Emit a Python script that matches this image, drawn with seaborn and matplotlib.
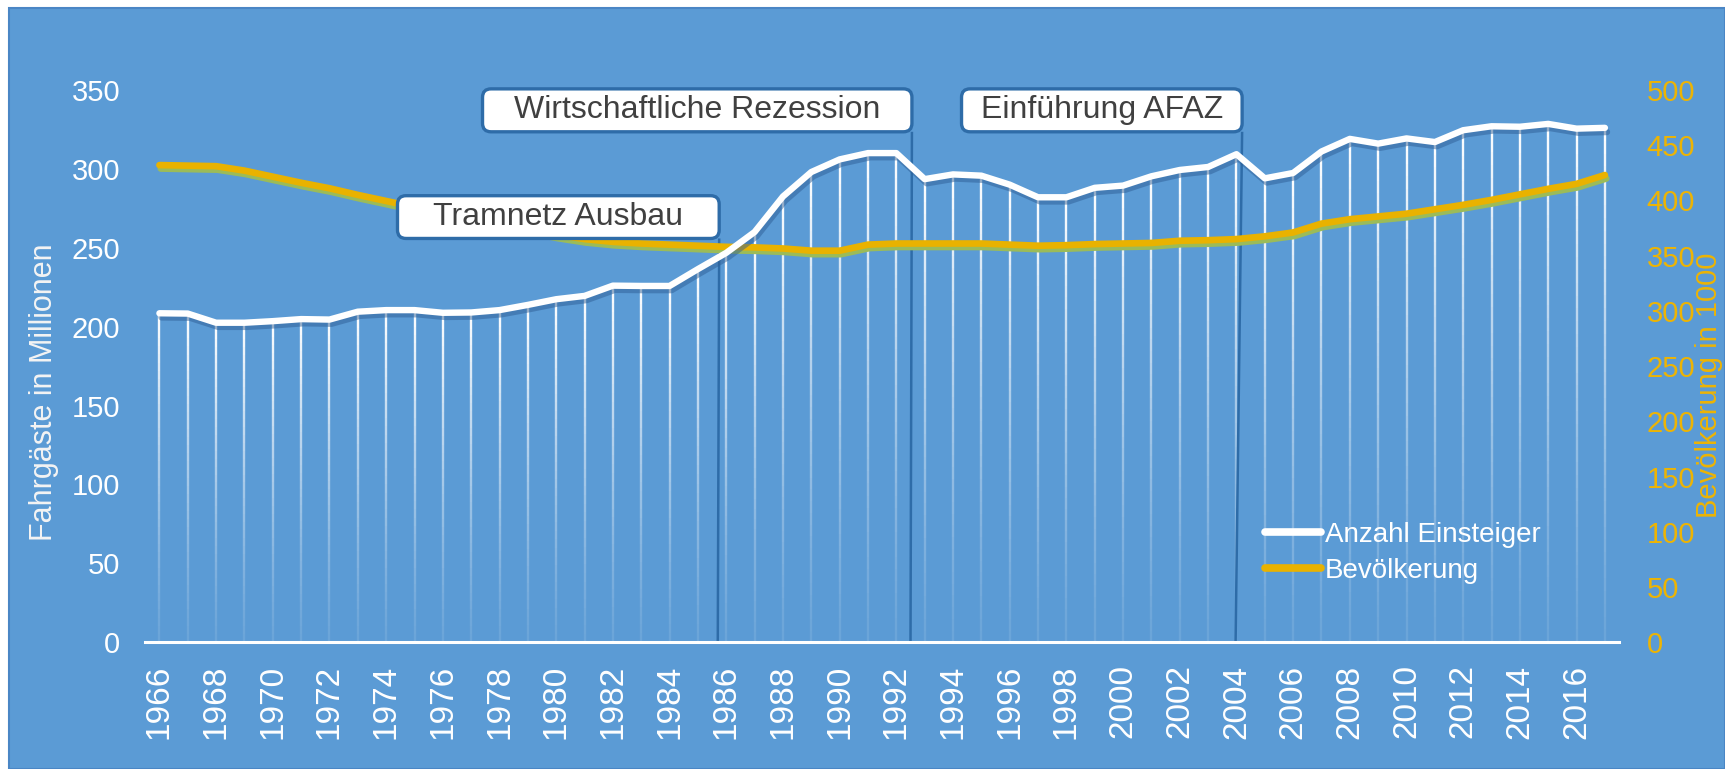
import numpy as np
import pandas as pd
import matplotlib
matplotlib.use("Agg")
import matplotlib.pyplot as plt
import matplotlib.patheffects as pe
import seaborn as sns
from matplotlib.collections import LineCollection
from matplotlib.lines import Line2D
from matplotlib.patches import FancyBboxPatch, Rectangle

# ==============================
# Data
# ==============================
years = list(range(1966, 2018))

# Fahrgaeste in Millionen (left axis)
einsteiger = [208.5, 208.3, 202.5, 202.5, 203.5, 204.8, 204.5, 209.5, 210.5, 210.5,
              208.8, 209.0, 210.5, 213.8, 217.4, 219.5, 226.0, 225.8, 225.8, 236.5,
              246.8, 260.0, 282.5, 298.0, 306.0, 310.0, 310.0, 293.5, 296.5, 295.7,
              290.0, 282.0, 282.0, 288.0, 289.4, 295.3, 299.3, 301.2, 309.3, 294.0,
              297.4, 311.0, 319.0, 316.0, 319.3, 317.0, 324.5, 327.0, 326.7, 328.5,
              325.5, 326.0]

# Bevoelkerung in 1000 (right axis)
bevoelkerung = [432.0, 431.5, 431.0, 427.0, 421.5, 416.0, 411.0, 405.0, 399.5, 394.0,
                389.0, 384.0, 379.0, 374.0, 369.0, 365.0, 362.5, 361.0, 360.0, 359.0,
                358.0, 357.5, 356.5, 354.5, 354.5, 360.0, 361.0, 361.0, 361.0, 361.0,
                360.0, 359.0, 359.5, 360.5, 361.0, 361.5, 363.5, 364.0, 365.0, 367.5,
                371.0, 379.0, 383.0, 385.5, 388.0, 392.0, 396.0, 400.5, 405.5, 410.5,
                415.0, 423.0]

# annotations: label, year of the marker line (bottom, top)
events = ["Tramnetz Ausbau", "Wirtschaftliche Rezession", "Einführung AFAZ"]
event_bottom = [1985.7, 1992.5, 2003.97]
event_top = [1985.75, 1992.55, 2004.2]
# box: left edge (year), bottom and top (left-axis units)
box_left = [1974.4, 1977.4, 1994.3]
box_bottom = [255.9, 323.5, 323.5]
box_top = [283.0, 350.7, 350.7]

df = pd.DataFrame({"Jahr": years, "Anzahl Einsteiger": einsteiger,
                   "Bevölkerung": bevoelkerung})

# ==============================
# Style
# ==============================
BLUE = "#5B9BD5"
GOLD = "#E9B200"
TICK_GOLD = "#EDB404"
DARK = "#2E6CA8"

sns.set_style("white")
plt.rcParams["font.family"] = ["Liberation Sans", "DejaVu Sans"]

fig = plt.figure(figsize=(17.25, 7.69), dpi=100)
fig.patch.set_facecolor("white")
fig.patches.append(Rectangle((9 / 1725, 0), 1 - 9 / 1725, 1 - 8 / 769,
                             transform=fig.transFigure, facecolor=BLUE,
                             edgecolor="#4A86C5", lw=1.5, zorder=-5))

ax = fig.add_axes([0.0842, 0.1648, 0.8544, 0.7182])
ax2 = ax.twinx()
ax.set_zorder(ax2.get_zorder() + 1)
ax.patch.set_visible(False)
ax2.patch.set_visible(False)

ax.set_xlim(1965.5, 2017.5)
ax.set_ylim(0, 350)
ax2.set_ylim(0, 500)

# drop lines with a fade towards the bottom
segs, cols = [], []
n = 40
for x, v in zip(years, einsteiger):
    ys = np.linspace(0, v, n + 1)
    for i in range(n):
        segs.append([(x, ys[i]), (x, ys[i + 1])])
        a = 0.1 + 0.9 * ((ys[i] + ys[i + 1]) / 2 / v) ** 1.3
        cols.append((1, 1, 1, a))
ax2.add_collection(LineCollection(segs, colors=cols, linewidths=1.7,
                                  transform=ax.transData, zorder=1))

# event marker lines
for xb, xt, yb in zip(event_bottom, event_top, box_bottom):
    ax2.plot([xb, xt], [0, yb], color=DARK, lw=1.8, transform=ax.transData,
             zorder=2, solid_capstyle="butt")

# population line (right axis)
sns.lineplot(data=df, x="Jahr", y="Bevölkerung", ax=ax2, color=GOLD, lw=4.8,
             zorder=3, legend=False)
ax2.lines[-1].set_path_effects([
    pe.SimpleLineShadow(offset=(1, -2.5), shadow_color="#9BBB59", alpha=1),
    pe.Normal()])
ax2.lines[-1].set_solid_capstyle("round")

# passengers line (left axis)
sns.lineplot(data=df, x="Jahr", y="Anzahl Einsteiger", ax=ax, color="white",
             lw=4.6, zorder=3, legend=False)
ax.lines[-1].set_path_effects([
    pe.SimpleLineShadow(offset=(1.5, -3), shadow_color="#2F5F96", alpha=0.5),
    pe.Normal()])
ax.lines[-1].set_solid_capstyle("round")

# annotation boxes
fig.canvas.draw()
p0 = ax.transData.transform((1966, 0))
p1 = ax.transData.transform((1967, 1))
aspect = (p1[0] - p0[0]) / (p1[1] - p0[1])
for label, xl, xr, yb, yt in zip(events, box_left, event_top, box_bottom, box_top):
    box = FancyBboxPatch((xl, yb), xr - xl, yt - yb,
                         boxstyle="round,pad=0,rounding_size=0.3",
                         mutation_aspect=aspect, facecolor="white",
                         edgecolor=DARK, lw=2.4, zorder=10, clip_on=False)
    ax.add_patch(box)
    ax.text((xl + xr) / 2, (yb + yt) / 2, label, ha="center", va="center",
            fontsize=23, color="#404040", zorder=11, clip_on=False)

# axes styling
for s in ["top", "left", "right"]:
    ax.spines[s].set_visible(False)
    ax2.spines[s].set_visible(False)
ax2.spines["bottom"].set_visible(False)
ax.spines["bottom"].set_color("white")
ax.spines["bottom"].set_linewidth(2.2)

ax.set_xticks(years[::2])
ax.set_xticklabels([str(y) for y in years[::2]], rotation=90, fontsize=24,
                   color="white")
ax.set_yticks(range(0, 351, 50))
ax.set_yticklabels([str(v) for v in range(0, 351, 50)], fontsize=21, color="white")
ax2.set_yticks(range(0, 501, 50))
ax2.set_yticklabels([str(v) for v in range(0, 501, 50)], fontsize=21,
                    color=TICK_GOLD)
ax.tick_params(axis="x", length=0, pad=16)
ax.tick_params(axis="y", length=0, pad=18)
ax2.tick_params(axis="y", length=0, pad=20)
ax.set_xlabel("")
ax.set_ylabel("")
ax2.set_ylabel("")
ax.grid(False)
ax2.grid(False)

fig.text(44 / 1725, 1 - 392 / 769, "Fahrgäste in Millionen", rotation=90,
         ha="center", va="center", fontsize=22, color="#F4F4F4")
fig.text(1709 / 1725, 1 - 385 / 769, "Bevölkerung in 1000", rotation=90,
         ha="center", va="center", fontsize=21, color=TICK_GOLD)

handles = [Line2D([], [], color="white", lw=5.5, solid_capstyle="round"),
           Line2D([], [], color=GOLD, lw=5.5, solid_capstyle="round")]
leg = fig.legend(handles, ["Anzahl Einsteiger", "Bevölkerung"],
                 loc="upper left", bbox_to_anchor=(1265 / 1725, 1 - 522 / 769),
                 frameon=False, fontsize=20, handlelength=2.0,
                 handletextpad=0.15, labelspacing=0.35, borderpad=0,
                 borderaxespad=0)
for t in leg.get_texts():
    t.set_color("white")

fig.savefig("out.png", dpi=100)
